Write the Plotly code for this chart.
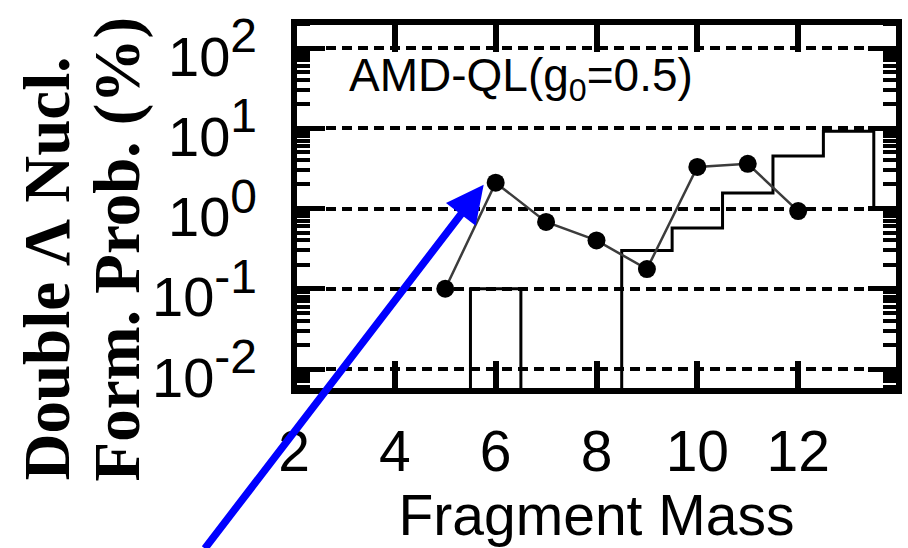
import numpy as np
import plotly.graph_objects as go

# AMD-QL (g0 = 0.5): double-Lambda nucleus formation probability (%) per fragment mass
mass = [5, 6, 7, 8, 9, 10, 11, 12]
prob = [0.10, 2.1, 0.68, 0.40, 0.176, 3.3, 3.6, 0.93]

# Step histogram, one bin per mass number (0 = empty bin)
hist_mass = [5, 6, 7, 8, 9, 10, 11, 12, 13, 14]
hist_prob = [0, 0.10, 0, 0, 0.30, 0.57, 1.56, 4.5, 9.2, 1.0]

x_ticks = [2, 4, 6, 8, 10, 12]
y_exponents = [-2, -1, 0, 1, 2]
y_tickvals = [10.0 ** e for e in y_exponents]
# exponents set in a larger-than-default superscript
y_ticktext = [f"10<sup><span style='font-size:48px'>{e}</span></sup>"
              for e in y_exponents]

# empty bins are drawn below the visible range so the steps drop to the floor
EMPTY_FLOOR = 1e-4
hist_plot = [p if p > 0 else EMPTY_FLOOR for p in hist_prob]

SANS = "Arial, Liberation Sans, sans-serif"
SERIF = "Times New Roman, Liberation Serif, serif"

fig = go.Figure()

fig.add_trace(go.Scatter(
    x=hist_mass, y=hist_plot, mode="lines",
    line=dict(shape="hvh", color="black", width=3),
    hoverinfo="skip",
))

fig.add_trace(go.Scatter(
    x=mass, y=prob, mode="lines+markers",
    line=dict(color="#3c3c3c", width=2.5),
    marker=dict(size=18, color="black"),
))

fig.update_layout(
    width=908, height=548,
    margin=dict(l=294, r=9, t=22, b=157, pad=0, autoexpand=False),
    paper_bgcolor="white", plot_bgcolor="white",
    showlegend=False,
    font=dict(family=SANS, color="black"),
    xaxis=dict(
        range=[2, 14], automargin=False,
        tickmode="array", tickvals=x_ticks,
        ticks="inside", ticklen=30, tickwidth=6, tickcolor="black",
        mirror="allticks", showline=False, showgrid=False, zeroline=False,
        tickfont=dict(family=SANS, size=57, color="black"),
        ticklabelstandoff=22,
        title=dict(text="Fragment Mass",
                   font=dict(family=SANS, size=57, color="black"),
                   standoff=12),
    ),
    yaxis=dict(
        type="log", automargin=False,
        range=[-2.274, 2.324],
        tickmode="array", tickvals=y_tickvals, ticktext=y_ticktext,
        ticks="inside", ticklen=31, tickwidth=5, tickcolor="black",
        mirror="allticks", showline=False, zeroline=False,
        showgrid=True, gridcolor="black", gridwidth=3.5, griddash="10px,6px",
        tickfont=dict(family=SANS, size=56, color="black"),
        ticklabelstandoff=36, ticklabelshift=8,
        minor=dict(dtick="D1", ticks="inside", ticklen=16, tickwidth=4,
                   tickcolor="black", showgrid=False),
    ),
    shapes=[dict(type="rect", xref="paper", yref="paper",
                 x0=0, x1=1, y0=0, y1=1,
                 line=dict(color="black", width=6), layer="above")],
)

annotations = [
    dict(text="AMD-QL(g<sub>0</sub>=0.5)", xref="paper", yref="paper",
         x=0.0876, y=0.846, xanchor="left", yanchor="middle", showarrow=False,
         font=dict(family=SANS, size=46, color="black")),
    dict(text="Double \u039b Nucl.", xref="paper", yref="paper",
         x=-0.4090, y=-0.2493, xanchor="center", yanchor="bottom",
         textangle=-90, showarrow=False,
         font=dict(family=SERIF, size=65, color="black", weight="bold")),
    dict(text="Form. Prob. (%)", xref="paper", yref="paper",
         x=-0.2910, y=-0.2493, xanchor="center", yanchor="bottom",
         textangle=-90, showarrow=False,
         font=dict(family=SERIF, size=65, color="black", weight="bold")),
    # arrow pointing at the A = 6 maximum
    dict(text="", xref="x", yref="y", x=mass[1], y=np.log10(prob[1]),
         xshift=-12, yshift=-2,
         showarrow=True, ax=-280, ay=381, axref="pixel", ayref="pixel",
         arrowcolor="#0000ff", arrowwidth=7.5, arrowhead=2, arrowsize=1.0,
         standoff=0),
]
fig.update_layout(annotations=annotations)

fig.write_html("out.html")
